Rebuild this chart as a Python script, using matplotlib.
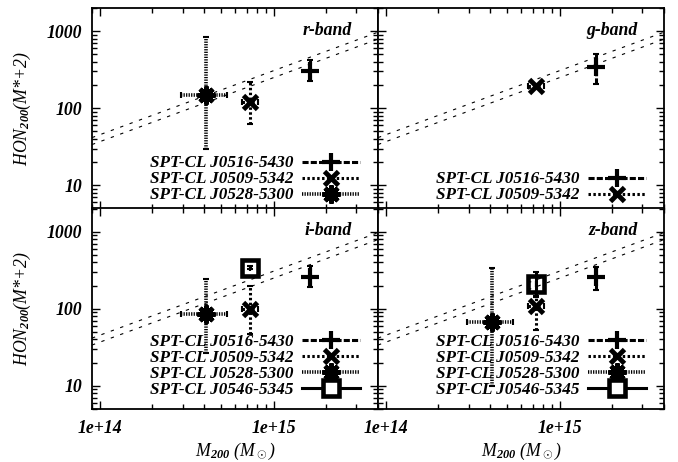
import numpy as np
import matplotlib
matplotlib.use('Agg')
import matplotlib.pyplot as plt
from matplotlib.lines import Line2D
from matplotlib.ticker import LogLocator, NullFormatter, FixedLocator, FixedFormatter

plt.rcParams['font.family'] = ['Liberation Serif', 'DejaVu Serif']
plt.rcParams['font.weight'] = 'bold'
plt.rcParams['font.style'] = 'italic'
plt.rcParams['mathtext.fontset'] = 'custom'
plt.rcParams['mathtext.rm'] = 'Liberation Serif:bold:italic'
plt.rcParams['mathtext.it'] = 'Liberation Serif:bold:italic'
plt.rcParams['mathtext.bf'] = 'Liberation Serif:bold:italic'

bands = ['r-band', 'g-band', 'i-band', 'z-band']
clusters = ['SPT-CL J0516-5430', 'SPT-CL J0509-5342', 'SPT-CL J0528-5300', 'SPT-CL J0546-5345']

# M200 and its range for each cluster
m200 = [1.63e15, 7.3e14, 4.1e14, 7.3e14]
m200_lo = [1.63e15, 6.6e14, 2.95e14, 7.3e14]
m200_hi = [1.63e15, 8.1e14, 5.4e14, 7.3e14]

# HON200 per band (None = cluster not in that band)
hon = {
    'r-band': [305, 121, 149, None],
    'g-band': [343, 195, None, None],
    'i-band': [262, 99, 85, 343],
    'z-band': [255, 108, 67, 207],
}
hon_lo = {
    'r-band': [226, 63, 30, None],
    'g-band': [207, 185, None, None],
    'i-band': [189, 47, 27, 330],
    'z-band': [173, 53, 10, 145],
}
hon_hi = {
    'r-band': [423, 220, 840, None],
    'g-band': [505, 205, None, None],
    'i-band': [364, 195, 240, 355],
    'z-band': [353, 141, 343, 296],
}

# scaling relations (dashed lines), end points
rel_mass = [9e13, 4e15]
rel_upper = [41.6, 971]
rel_lower = [33.8, 789]

styles = [
    dict(marker='+', ms=13, mew=3.0, ls=(0, (2.0, 0.7)), lw=2.2, mfc='k'),
    dict(marker='x', ms=10, mew=3.5, ls=(0, (0.8, 0.8)), lw=2.2, mfc='k'),
    dict(marker=(8, 2, 0), ms=13, mew=3.2, ls=(0, (0.35, 0.35)), lw=2.6, mfc='k'),
    dict(marker='s', ms=12, mew=3.3, ls='-', lw=2.2, mfc='none'),
]

fig, axes = plt.subplots(2, 2, figsize=(6.78, 4.62), dpi=100, sharex=True, sharey=True)
fig.subplots_adjust(left=92/678, right=664/678, top=1-8/462, bottom=1-409/462,
                    wspace=0, hspace=0)

for ax, band in zip(axes.flat, bands):
    ax.set_xscale('log')
    ax.set_yscale('log')
    ax.plot(rel_mass, rel_upper, color='k', lw=0.8, ls=(0, (3, 6)))
    ax.plot(rel_mass, rel_lower, color='k', lw=0.8, ls=(0, (3, 6)))

    handles = []
    for i, name in enumerate(clusters):
        y = hon[band][i]
        if y is None:
            continue
        st = styles[i]
        x = m200[i]
        eb = ax.errorbar([x], [y],
                         xerr=[[x - m200_lo[i]], [m200_hi[i] - x]],
                         yerr=[[y - hon_lo[band][i]], [hon_hi[band][i] - y]],
                         fmt='none', ecolor='k', elinewidth=st['lw'],
                         capsize=2.2, capthick=1.5)
        for coll in eb.lines[2]:
            coll.set_linestyle(st['ls'])
        ax.plot([x], [y], ls='none', color='k', marker=st['marker'], ms=st['ms'],
                mew=st['mew'], mfc=st['mfc'], mec='k')
        handles.append(Line2D([], [], color='k', ls=st['ls'], lw=st['lw'],
                              marker=st['marker'], ms=st['ms'], mew=st['mew'],
                              mfc='white' if st['mfc'] == 'none' else 'k', mec='k',
                              label=name))

    ybot = 0.025 if band in ('r-band', 'g-band') else 0.055
    ax.legend(handles=handles, loc='lower right', bbox_to_anchor=(0.937, ybot),
              frameon=False, markerfirst=False, numpoints=1, handlelength=3.4,
              handletextpad=0.5, labelspacing=0.0, borderpad=0, borderaxespad=0,
              prop=dict(family='Liberation Serif', weight='bold', style='italic', size=12.3))

    ax.text(0.909, 0.89, band, transform=ax.transAxes, ha='right', va='center',
            fontsize=12.8)

    ax.set_xlim(9e13, 4e15)
    ax.set_ylim(5, 2000)
    ax.xaxis.set_major_locator(FixedLocator([1e14, 1e15]))
    ax.xaxis.set_major_formatter(FixedFormatter(['1e+14', '1e+15']))
    ax.xaxis.set_minor_locator(LogLocator(base=10, subs=np.arange(2, 10)))
    ax.xaxis.set_minor_formatter(NullFormatter())
    ax.yaxis.set_major_locator(FixedLocator([10, 100, 1000]))
    ax.yaxis.set_major_formatter(FixedFormatter(['10', '100', '1000']))
    ax.yaxis.set_minor_locator(LogLocator(base=10, subs=np.arange(2, 10)))
    ax.yaxis.set_minor_formatter(NullFormatter())
    ax.tick_params(which='both', direction='in', top=True, right=True, width=1.0,
                   labelsize=12.8)
    ax.tick_params(which='major', length=6)
    ax.tick_params(which='minor', length=3.5)
    ax.tick_params(axis='x', pad=8)
    ax.tick_params(axis='y', pad=7)
    for sp in ax.spines.values():
        sp.set_linewidth(1.3)

for ax in axes[:, 0]:
    ax.set_ylabel('HON$_{200}$(M*+2)', fontsize=12.8, labelpad=10)
for ax in axes[1, :]:
    ax.set_xlabel('M$_{200}$ (M$_\\odot$)', fontsize=12.8, labelpad=3)

fig.savefig('out.png', dpi=100)
